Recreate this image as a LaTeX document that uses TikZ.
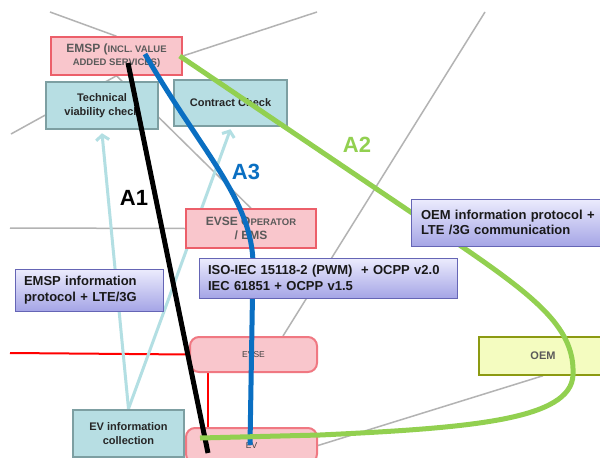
\documentclass[tikz,border=0pt]{standalone}
\usepackage{fontspec}
\setmainfont{Liberation Sans}
\usetikzlibrary{arrows.meta,calc,shadings}
\definecolor{pinkfill}{HTML}{F9C6CC}
\definecolor{pinkline}{HTML}{EC5F6A}
\definecolor{evline}{HTML}{F07882}
\definecolor{pinktext}{HTML}{5A5A5A}
\definecolor{tealfill}{HTML}{B7DEE3}
\definecolor{tealline}{HTML}{7D9FA2}
\definecolor{lavtop}{HTML}{ECECFD}
\definecolor{lavbot}{HTML}{A5A5E6}
\definecolor{lavline}{HTML}{6565B5}
\definecolor{oemfill}{HTML}{F4FCC0}
\definecolor{oemline}{HTML}{8C9A12}
\definecolor{grayl}{HTML}{B3B3B3}
\definecolor{cyanl}{HTML}{B3DFE3}
\definecolor{bluel}{HTML}{0A6FC2}
\definecolor{greenl}{HTML}{92D050}
\pgfdeclarelayer{bg}
\pgfdeclarelayer{lines}
\pgfdeclarelayer{upper}
\pgfdeclarelayer{greenlayer}
\pgfdeclarelayer{top}
\pgfsetlayers{bg,main,lines,upper,greenlayer,top}
\begin{document}
\begin{tikzpicture}[x=1pt,y=-1pt,
  pinkbox/.style={draw=pinkline,fill=pinkfill,line width=1.5pt,text=pinktext,align=center,inner sep=0pt,font=\bfseries\fontsize{12}{13}\selectfont},
  evbox/.style={draw=evline,fill=pinkfill,line width=2pt,rounded corners=9pt,text=pinktext!70!black,font=\fontsize{8.5}{10}\selectfont,inner sep=0pt},
  tealbox/.style={draw=tealline,fill=tealfill,line width=2.5pt,text=black!85,align=center,inner sep=0pt,font=\bfseries\fontsize{11}{14}\selectfont},
  lavbox/.style={draw=lavline,top color=lavtop,bottom color=lavbot,line width=1pt,align=left,inner ysep=0pt,text=black!90,font=\bfseries\fontsize{13}{15.5}\selectfont},
  oembox/.style={draw=oemline,fill=oemfill,line width=1.5pt,text=pinktext,inner sep=0pt,font=\bfseries\fontsize{11}{13}\selectfont},
  grayline/.style={draw=grayl,line width=1.5pt},
  redline/.style={draw=red,line width=2pt},
  cyanarrow/.style={draw=cyanl,line width=3pt,-{Straight Barb[length=5pt,width=13pt]}},
  thickline/.style={line width=5pt},
  lbl/.style={font=\bfseries\fontsize{22}{24}\selectfont,inner sep=0pt}
]
\clip (0,0) rectangle (600,458);

% boxes
\node[pinkbox,minimum width=131pt,minimum height=38pt] (emsp) at (116.5,56)
  {EMSP ({\fontsize{9.5}{13}\selectfont INCL. VALUE}\\{\fontsize{9.5}{13}\selectfont ADDED SERVICES)}};
\node[tealbox,minimum width=112pt,minimum height=47pt] (tvc) at (102,105.5) {Technical\\viability check};
\node[tealbox,minimum width=113pt,minimum height=46pt] (cc) at (230.5,103) {Contract Check};
\node[pinkbox,font=\bfseries\fontsize{12}{14}\selectfont,minimum width=130pt,minimum height=39pt] (evseop) at (251,228.5)
  {EVSE O{\fontsize{9.5}{14}\selectfont PERATOR}\\/ EMS};
\node[evbox,minimum width=127pt,minimum height=35pt] (evse) at (253.5,354.5) {EVSE};
\node[evbox,minimum width=131pt,minimum height=35pt] (ev) at (251.5,445.5) {EV};
\node[oembox,minimum width=128pt,minimum height=38pt] (oem) at (543,356) {OEM};
\node[tealbox,minimum width=111pt,minimum height=47pt] (evinfo) at (128.5,433.5) {EV information\\collection};
\node[lavbox,text width=130pt,inner xsep=9pt,minimum height=42pt] (emspinfo) at (89,290)
  {EMSP information\\protocol + LTE/3G};
\begin{pgfonlayer}{upper}
\node[lavbox,text width=240pt,inner xsep=9pt,minimum height=40pt] (iso) at (328,278)
  {ISO-IEC 15118-2 (PWM)~~+ OCPP v2.0\\IEC 61851 + OCPP v1.5};
\end{pgfonlayer}
\begin{pgfonlayer}{top}
\node[lavbox,text width=182pt,inner xsep=10pt,minimum height=47pt] (oeminfo) at (512,222.5)
  {OEM information protocol +\\LTE /3G communication};
\end{pgfonlayer}

% free ends
\coordinate (g1) at (50,12);
\coordinate (g2) at (317,12);
\coordinate (g3) at (11,134);
\coordinate (g4) at (10,228);
\coordinate (g5) at (485,12);
\coordinate (r1) at (10,353);

\begin{pgfonlayer}{bg}
\fill[white] (0,0) rectangle (600,458);
\draw[grayline] (g1) -- (emsp.north);
\draw[grayline] (emsp.east) -- (g2);
\draw[grayline] (emsp.south) -- (g3);
\draw[grayline] (emsp.south) -- (evseop.north);
\draw[grayline] (g4) -- (evseop.west);
\draw[grayline] (g5) -- ($(evse.north)+(29.5,0)$);
\draw[grayline] (oem.south) -- (ev.east);
\draw[redline] (r1) -- (evse.west);
\draw[redline] ($(evse.south)+(-45.5,0)$) -- ($(ev.north)+(-43.5,0)$);
\draw[cyanarrow] (evinfo.north) -- ($(tvc.south)+(0,3)$);
\draw[cyanarrow] (evinfo.north) -- ($(cc.south)+(0,2)$);
\end{pgfonlayer}

\begin{pgfonlayer}{lines}
\draw[thickline,black] ($(emsp.center)+(11.5,7)$) -- ($(ev.center)+(-43.5,7.5)$);
\draw[thickline,bluel] ($(emsp.center)+(28.5,-2)$) .. controls (200,150) and (253,200) .. (253,265)
  -- ($(ev.center)+(-1.5,-0.5)$);
\end{pgfonlayer}

\begin{pgfonlayer}{greenlayer}
\draw[thickline,greenl] ($(emsp.east)+(-3,0)$) -- (461,246)
  .. controls (540,300) and (575,330) .. (573,375)
  .. controls (571,420) and (470,428) .. (320,435)
  -- ($(ev.center)+(-51.5,-7.5)$);
\end{pgfonlayer}

% labels
\node[lbl,text=black] (a1) at (134,198) {A1};
\node[lbl,text=bluel] (a3) at (246,172) {A3};
\node[lbl,text=greenl] (a2) at (357,145) {A2};
\end{tikzpicture}
\end{document}
